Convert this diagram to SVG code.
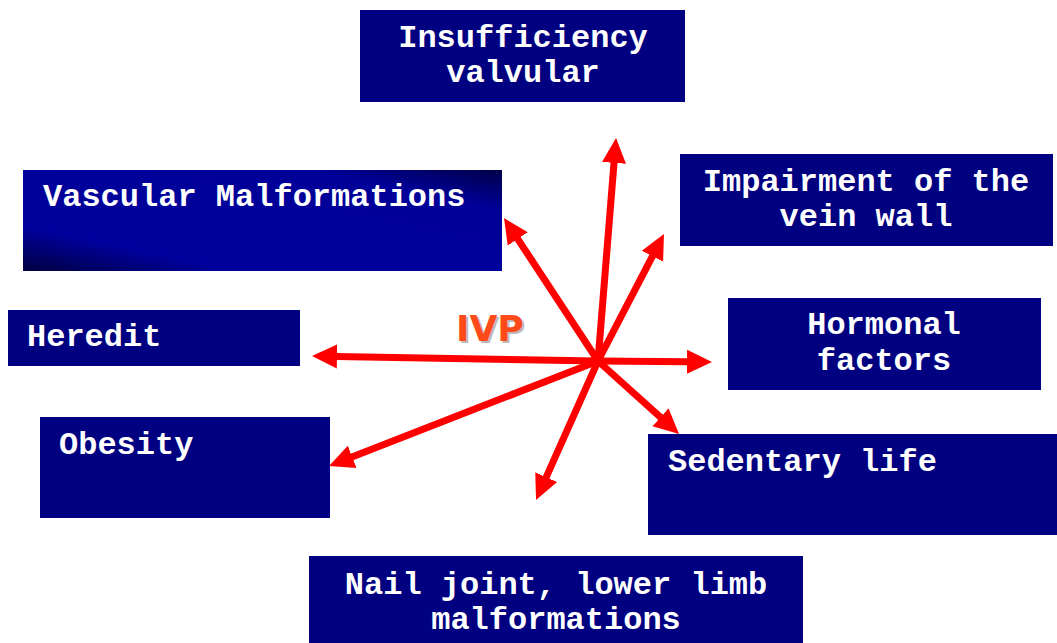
<svg xmlns="http://www.w3.org/2000/svg" width="1057" height="643" viewBox="0 0 1057 643">
<style>
.box{fill:#000080}
.lbl{fill:#ffffff;font-family:"Liberation Mono","Courier New",monospace;font-weight:bold;font-size:32px}
.mid{text-anchor:middle}
.arr{stroke:#ff0000;stroke-width:7;fill:none;marker-end:url(#head)}
.ivp{font-family:"Comic Sans MS","DejaVu Sans",sans-serif;font-weight:bold;font-size:36px}
</style>
<defs>
<marker id="head" viewBox="0 -13 26 26" markerUnits="userSpaceOnUse" markerWidth="26" markerHeight="26" refX="1" refY="0" orient="auto">
<path d="M0,-12 L25,0 L0,12 z" fill="#ff0000"/>
</marker>
<linearGradient id="vg" x1="0" y1="1" x2="1" y2="0">
<stop offset="0" stop-color="#000040"/>
<stop offset="0.22" stop-color="#00009C"/>
<stop offset="0.8" stop-color="#000098"/>
<stop offset="1" stop-color="#000048"/>
</linearGradient>
</defs>
<rect width="1057" height="643" fill="#ffffff"/>
<g id="connectors">
<line class="arr" x1="598" y1="361" x2="614.1" y2="161.9"/>
<line class="arr" x1="598" y1="361" x2="517.2" y2="238.1"/>
<line class="arr" x1="598" y1="361" x2="652.9" y2="255.3"/>
<line class="arr" x1="598" y1="361" x2="336" y2="356.4"/>
<line class="arr" x1="598" y1="361" x2="688" y2="361.8"/>
<line class="arr" x1="598" y1="361" x2="351.3" y2="457.3"/>
<line class="arr" x1="598" y1="361" x2="661.2" y2="417.9"/>
<line class="arr" x1="598" y1="361" x2="545.8" y2="478.1"/>
</g>
<g id="ivp">
<text class="ivp" x="458" y="343" fill="#bbbbbb">IVP</text>
<text class="ivp" x="456" y="341" fill="#ff4a1a">IVP</text>
</g>
<g id="insufficiency">
<rect class="box" x="360" y="10" width="325" height="92"/>
<text class="lbl mid" x="523" y="47">Insufficiency</text>
<text class="lbl mid" x="523" y="82">valvular</text>
</g>
<g id="vascular">
<rect x="23" y="170" width="479" height="101" fill="url(#vg)"/>
<text class="lbl" x="43" y="206">Vascular Malformations</text>
</g>
<g id="impairment">
<rect class="box" x="680" y="154" width="373" height="92"/>
<text class="lbl mid" x="866" y="191">Impairment of the</text>
<text class="lbl mid" x="866" y="226">vein wall</text>
</g>
<g id="heredit">
<rect class="box" x="8" y="310" width="292" height="56"/>
<text class="lbl" x="27" y="346">Heredit</text>
</g>
<g id="hormonal">
<rect class="box" x="728" y="298" width="313" height="92"/>
<text class="lbl mid" x="884" y="334">Hormonal</text>
<text class="lbl mid" x="884" y="370">factors</text>
</g>
<g id="obesity">
<rect class="box" x="40" y="417" width="290" height="101"/>
<text class="lbl" x="59" y="454">Obesity</text>
</g>
<g id="sedentary">
<rect class="box" x="648" y="434" width="409" height="101"/>
<text class="lbl" x="668" y="471">Sedentary life</text>
</g>
<g id="nail">
<rect class="box" x="309" y="556" width="494" height="87"/>
<text class="lbl mid" x="556" y="594">Nail joint, lower limb</text>
<text class="lbl mid" x="556" y="629">malformations</text>
</g>
</svg>
